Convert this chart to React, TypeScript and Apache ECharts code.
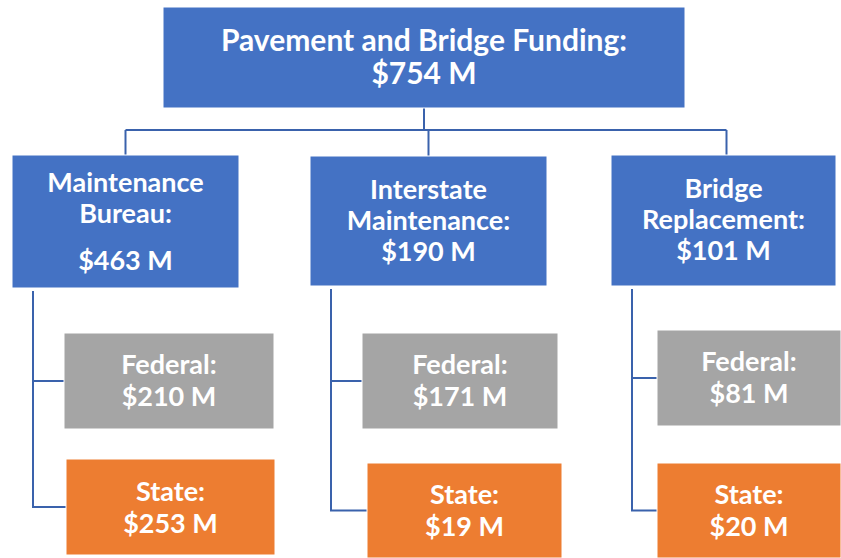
import React, { useEffect, useRef } from "react";
import * as echarts from "echarts";

// ---- data ----
const rootName = "Pavement and Bridge Funding:";
const rootValue = 754;
const programNames = [["Maintenance", "Bureau:"], ["Interstate", "Maintenance:"], ["Bridge", "Replacement:"]];
const programValues = [463, 190, 101];
const sourceNames = ["Federal:", "State:"];
const federalValues = [210, 171, 81];
const stateValues = [253, 19, 20];

// ---- layout (pixels: x, y, width, height) ----
const rootBox = [163, 7, 522, 101];
const programBoxes = [
  [12, 155, 227, 133],
  [310, 156, 237, 130],
  [611, 155, 225, 131],
];
const federalBoxes = [
  [64, 333, 210, 96],
  [362, 333, 196, 96],
  [657, 330, 184, 96],
];
const stateBoxes = [
  [66, 459, 209, 96],
  [367, 463, 195, 95],
  [657, 463, 184, 95],
];
const programValueGap = [16, 0, 0];
const busY = 130;
const trunkOffset = 21;

const BLUE = "#4472C4";
const GRAY = "#A5A5A5";
const ORANGE = "#ED7D31";
const LINE = "#3A62AC";
const FONT = "Lato";

const money = (v: number) => `$${v} M`;

type Node = { rect: number[]; lines: string[]; color: string; lh: number; gap: number; fs: number; dy: number };

const nodes: Node[] = [];
nodes.push({ rect: rootBox, lines: [rootName, money(rootValue)], color: BLUE, lh: 33, gap: 0, fs: 30, dy: -2 });
programNames.forEach((nm, i) => {
  nodes.push({ rect: programBoxes[i], lines: [...nm, money(programValues[i])], color: BLUE, lh: 31, gap: programValueGap[i], fs: 27, dy: i === 0 ? -1 : -2 });
  nodes.push({ rect: federalBoxes[i], lines: [sourceNames[0], money(federalValues[i])], color: GRAY, lh: 32, gap: 0, fs: 27, dy: -2 });
  nodes.push({ rect: stateBoxes[i], lines: [sourceNames[1], money(stateValues[i])], color: ORANGE, lh: 32, gap: 0, fs: 27, dy: -1 });
});

const cxOf = (r: number[]) => r[0] + r[2] / 2;
const midOf = (r: number[]) => r[1] + r[3] / 2;

const polylines: number[][][] = [];
polylines.push([[cxOf(rootBox), rootBox[1] + rootBox[3]], [cxOf(rootBox), busY]]);
polylines.push([[cxOf(programBoxes[0]), busY], [cxOf(programBoxes[2]) + 3, busY]]);
programBoxes.forEach((pb, i) => {
  const px = i === 2 ? cxOf(pb) + 3 : cxOf(pb);
  polylines.push([[px, busY], [px, pb[1]]]);
  const tx = pb[0] + trunkOffset;
  polylines.push([[tx, pb[1] + pb[3] + 3], [tx, midOf(stateBoxes[i])], [stateBoxes[i][0], midOf(stateBoxes[i])]]);
  polylines.push([[tx, midOf(federalBoxes[i])], [federalBoxes[i][0], midOf(federalBoxes[i])]]);
});

export default function App() {
  const ref = useRef<HTMLDivElement>(null);
  useEffect(() => {
    if (!ref.current) return;
    const chart = echarts.init(ref.current, undefined, { renderer: "svg" });
    chart.setOption({
      animation: false,
      backgroundColor: "#ffffff",
      grid: { left: 0, right: 0, top: 0, bottom: 0 },
      xAxis: { type: "value", min: 0, max: 841, show: false },
      yAxis: { type: "value", min: 0, max: 558, inverse: true, show: false },
      series: [
        {
          type: "custom",
          coordinateSystem: "cartesian2d",
          data: polylines.map((_, i) => [i]),
          silent: true,
          renderItem: (params: any, api: any) => {
            const pts = polylines[params.dataIndex].map((p) => api.coord(p));
            return {
              type: "polyline",
              shape: { points: pts },
              style: { stroke: LINE, lineWidth: 2, fill: "none" },
            };
          },
        },
        {
          type: "custom",
          coordinateSystem: "cartesian2d",
          data: nodes.map((n) => n.rect),
          silent: true,
          renderItem: (params: any, api: any) => {
            const n = nodes[params.dataIndex];
            const p0 = api.coord([api.value(0), api.value(1)]);
            const p1 = api.coord([api.value(0) + api.value(2), api.value(1) + api.value(3)]);
            const x = p0[0], y = p0[1], w = p1[0] - p0[0], h = p1[1] - p0[1];
            const cx = x + w / 2, cy = y + h / 2 + n.dy;
            const k = n.lines.length;
            const children: any[] = [
              { type: "rect", shape: { x, y, width: w, height: h }, style: { fill: n.color, stroke: "#ffffff", lineWidth: 1 } },
            ];
            n.lines.forEach((t, i) => {
              let ty = cy + (i - (k - 1) / 2) * n.lh;
              if (n.gap) ty += i === k - 1 ? n.gap / 2 : -n.gap / 2;
              children.push({
                type: "text",
                style: {
                  text: t, x: cx, y: ty, align: "center", verticalAlign: "middle",
                  fill: "#ffffff", fontFamily: FONT, fontWeight: "bold", fontSize: n.fs,
                },
              });
            });
            return { type: "group", children };
          },
        },
      ],
    });
    return () => chart.dispose();
  }, []);
  return <div ref={ref} style={{ position: "absolute", left: 0, top: 0, width: 841, height: 558 }} />;
}
